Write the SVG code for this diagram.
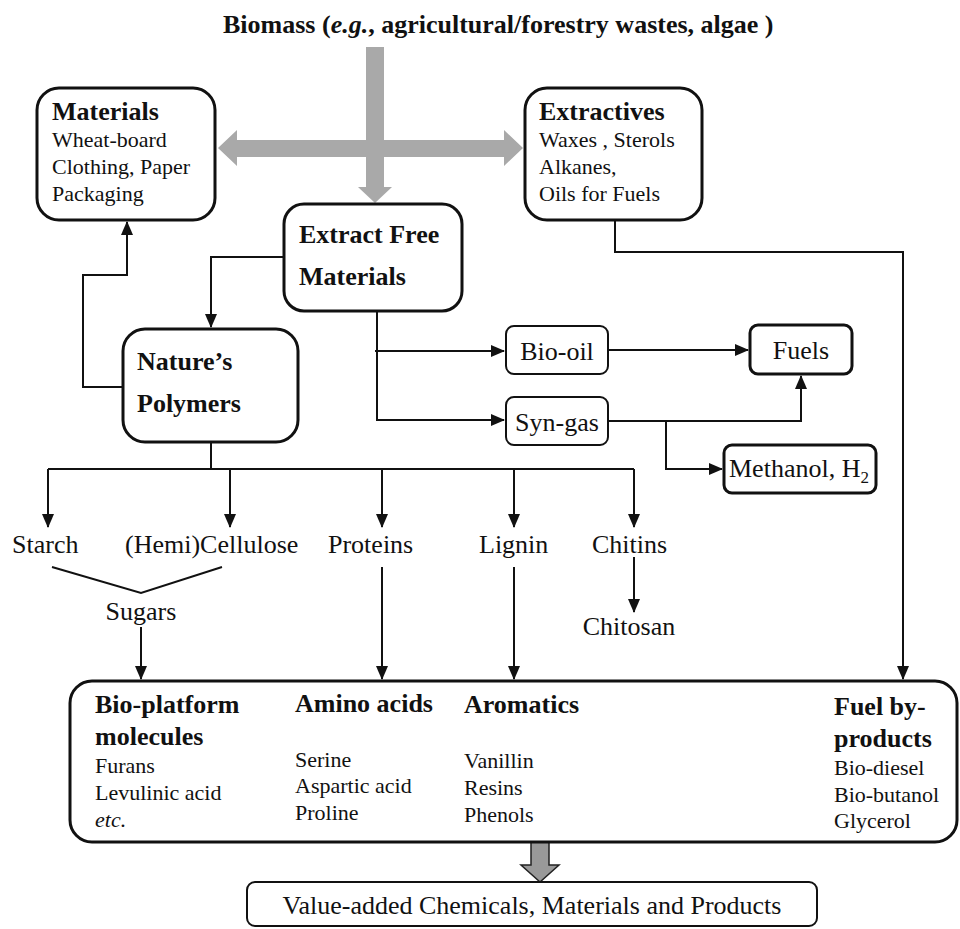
<svg xmlns="http://www.w3.org/2000/svg" width="960" height="929" viewBox="0 0 960 929">
<style>
text{font-family:"Liberation Serif","Times New Roman",serif;fill:#111}
.h{font-weight:bold;font-size:26px}
.b{font-size:22px}
.l{font-size:26px}
.box{fill:#fff;stroke:#111;stroke-width:3}
.sbox{fill:#fff;stroke:#111;stroke-width:2}
.c{fill:none;stroke:#111;stroke-width:2}
.ga{fill:#a9a9a9}
</style>
<defs>
<marker id="ar" markerUnits="userSpaceOnUse" markerWidth="14" markerHeight="12" refX="13" refY="6" orient="auto">
<path d="M0,0 L14,6 L0,12 z" fill="#111"/>
</marker>
</defs>
<text class="h" x="223" y="33" font-size="26.6">Biomass (<tspan font-style="italic">e.g.</tspan>, agricultural/forestry wastes, algae )</text>
<g id="grayarrows">
<path class="ga" d="M366,47 H384 V187 H392 L375,203 L358,187 H366 Z"/>
<path class="ga" d="M237,140 H504 V130 L523,148 L504,166 V157 H237 V166 L218,148 L237,130 Z"/>
</g>
<g id="connectors">
<path class="c" d="M285,257 H211 V327" marker-end="url(#ar)"/>
<path class="c" d="M123,387 H83 V275 H127 V222" marker-end="url(#ar)"/>
<path class="c" d="M615,220 V252 H903 V679" marker-end="url(#ar)"/>
<path class="c" d="M377,311 V420 H504" marker-end="url(#ar)"/>
<path class="c" d="M375,351 H504" marker-end="url(#ar)"/>
<path class="c" d="M608,350 H748" marker-end="url(#ar)"/>
<path class="c" d="M608,421 H801 V376" marker-end="url(#ar)"/>
<path class="c" d="M666,421 V469 H722" marker-end="url(#ar)"/>
<path class="c" d="M211,442 V469"/>
<path class="c" d="M48,469 H634"/>
<path class="c" d="M48,469 V527" marker-end="url(#ar)"/>
<path class="c" d="M230,469 V527" marker-end="url(#ar)"/>
<path class="c" d="M382,469 V527" marker-end="url(#ar)"/>
<path class="c" d="M514,469 V527" marker-end="url(#ar)"/>
<path class="c" d="M634,469 V527" marker-end="url(#ar)"/>
<path class="c" d="M52,567 L141,593 L222,567"/>
<path class="c" d="M634,557 V612" marker-end="url(#ar)"/>
<path class="c" d="M141,627 V679" marker-end="url(#ar)"/>
<path class="c" d="M382,567 V679" marker-end="url(#ar)"/>
<path class="c" d="M514,567 V679" marker-end="url(#ar)"/>
<path d="M531,842 H549 V865 H559 L540,882 L521,865 H531 Z" fill="#999" stroke="#222" stroke-width="1.5"/>
</g>
<g id="materials">
<rect class="box" x="37" y="88" width="178" height="132" rx="22"/>
<text class="h" x="52" y="120">Materials</text>
<text class="b" x="52" y="147">Wheat-board</text>
<text class="b" x="52" y="174">Clothing, Paper</text>
<text class="b" x="52" y="201">Packaging</text>
</g>
<g id="extractives">
<rect class="box" x="525" y="88" width="177" height="132" rx="22"/>
<text class="h" x="539" y="120">Extractives</text>
<text class="b" x="539" y="147">Waxes , Sterols</text>
<text class="b" x="539" y="174">Alkanes,</text>
<text class="b" x="539" y="201">Oils for Fuels</text>
</g>
<g id="extractfree">
<rect class="box" x="284" y="204" width="178" height="107" rx="20"/>
<text class="h" x="299" y="243">Extract Free</text>
<text class="h" x="299" y="285">Materials</text>
</g>
<g id="polymers">
<rect class="box" x="123" y="329" width="175" height="113" rx="22"/>
<text class="h" x="137" y="370">Nature’s</text>
<text class="h" x="137" y="412">Polymers</text>
</g>
<g id="biooil">
<rect class="sbox" x="506" y="326" width="102" height="48" rx="8"/>
<text class="l" x="557" y="360" text-anchor="middle">Bio-oil</text>
</g>
<g id="syngas">
<rect class="sbox" x="506" y="397" width="102" height="48" rx="8"/>
<text class="l" x="557" y="431" text-anchor="middle">Syn-gas</text>
</g>
<g id="fuels">
<rect class="box" x="750" y="325" width="102" height="49" rx="8"/>
<text class="l" x="801" y="359" text-anchor="middle">Fuels</text>
</g>
<g id="methanol">
<rect class="box" x="724" y="445" width="152" height="48" rx="8"/>
<text class="l" x="729" y="477">Methanol, H<tspan font-size="17" dy="6">2</tspan></text>
</g>
<g id="labels">
<text class="l" x="12" y="553">Starch</text>
<text class="l" x="125" y="553">(Hemi)Cellulose</text>
<text class="l" x="328" y="553">Proteins</text>
<text class="l" x="479" y="553">Lignin</text>
<text class="l" x="592" y="553">Chitins</text>
<text class="l" x="141" y="620" text-anchor="middle">Sugars</text>
<text class="l" x="629" y="635" text-anchor="middle">Chitosan</text>
</g>
<g id="products">
<rect class="box" x="70" y="681" width="887" height="161" rx="22"/>
<text class="h" x="95" y="713">Bio-platform</text>
<text class="h" x="95" y="745">molecules</text>
<text class="b" x="95" y="773">Furans</text>
<text class="b" x="95" y="800">Levulinic acid</text>
<text class="b" x="95" y="827" font-style="italic">etc.</text>
<text class="h" x="295" y="712">Amino acids</text>
<text class="b" x="295" y="767">Serine</text>
<text class="b" x="295" y="793">Aspartic acid</text>
<text class="b" x="295" y="820">Proline</text>
<text class="h" x="464" y="713">Aromatics</text>
<text class="b" x="464" y="768">Vanillin</text>
<text class="b" x="464" y="795">Resins</text>
<text class="b" x="464" y="822">Phenols</text>
<text class="h" x="834" y="715">Fuel by-</text>
<text class="h" x="834" y="747">products</text>
<text class="b" x="834" y="775">Bio-diesel</text>
<text class="b" x="834" y="802">Bio-butanol</text>
<text class="b" x="834" y="828">Glycerol</text>
</g>
<g id="valueadded">
<rect class="sbox" x="247" y="882" width="570" height="44" rx="8" stroke-width="2.5"/>
<text class="l" x="532" y="914" text-anchor="middle">Value-added Chemicals, Materials and Products</text>
</g>
</svg>
